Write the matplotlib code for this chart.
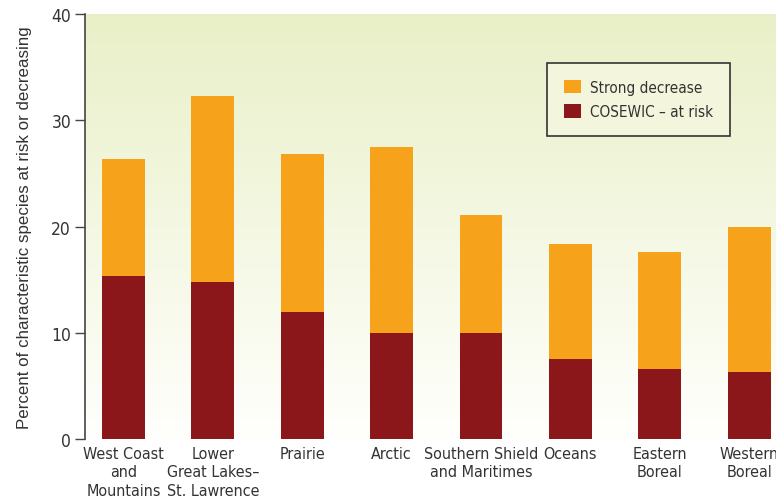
import numpy as np
import matplotlib.pyplot as plt
from matplotlib.patches import Patch
from matplotlib import font_manager

regions = ["West Coast\nand\nMountains", "Lower\nGreat Lakes\u2013\nSt. Lawrence", "Prairie",
           "Arctic", "Southern Shield\nand Maritimes", "Oceans", "Eastern\nBoreal", "Western\nBoreal"]
at_risk = [15.3, 14.8, 12.0, 10.0, 10.0, 7.5, 6.6, 6.3]
total = [26.4, 32.3, 26.8, 27.5, 21.1, 18.4, 17.6, 20.0]
strong_decrease = [t - r for t, r in zip(total, at_risk)]

# look for a condensed face, else fall back on Liberation Sans
cands = [f for f in font_manager.fontManager.ttflist
         if ("Narrow" in f.name or "Condensed" in f.name or "condensed" in str(f.stretch)
             or "Cond" in f.fname) and f.weight in (400, "normal", "regular") and f.style == "normal"]
if cands:
    cands.sort(key=lambda f: ("Liberation" not in f.name, f.fname))
    narrow = font_manager.FontProperties(fname=cands[0].fname)
    big = 11.5
else:
    narrow = font_manager.FontProperties(family="Liberation Sans")
    big = 9.5

orange = "#f7a21b"
red = "#8b171a"
txt = "#333333"

fig = plt.figure(figsize=(7.76, 5.02), dpi=100)
ax = fig.add_axes([0.1095, 0.1235, 0.8905, 0.8465])

x = np.arange(len(regions))
ax.set_xlim(-0.43, 7.30)
ax.set_ylim(0, 40)

# background: pale green at the top fading to white at the base
grad = np.linspace(0, 1, 256).reshape(-1, 1)
top = np.array([0.913, 0.941, 0.784])
bot = np.array([1.0, 1.0, 0.99])
img = bot + (top - bot) * grad[..., None]
ax.imshow(img, extent=[-0.43, 7.30, 0, 40], origin="lower", aspect="auto", zorder=0)

ax.bar(x, at_risk, width=0.48, color=red, zorder=2)
ax.bar(x, strong_decrease, width=0.48, bottom=at_risk, color=orange, zorder=2)

for s in ["top", "right", "bottom"]:
    ax.spines[s].set_visible(False)
ax.spines["left"].set_color("#444444")
ax.spines["left"].set_linewidth(1.2)

ax.set_yticks([0, 10, 20, 30, 40])
ax.tick_params(axis="y", length=7, width=1.0, color="#444444", labelcolor=txt, pad=3)
ax.tick_params(axis="x", length=0, pad=5)
ax.set_xticks(x)
ax.set_xticklabels(regions, color=txt, linespacing=1.28)
for lab in ax.get_xticklabels():
    lab.set_fontproperties(narrow)
    lab.set_fontsize(big)
for lab in ax.get_yticklabels():
    lab.set_fontproperties(narrow)
    lab.set_fontsize(12.5)
ax.set_ylabel("Percent of characteristic species at risk or decreasing",
              fontsize=12.2, color=txt, labelpad=14, family="Liberation Sans")

handles = [Patch(facecolor=orange, label="Strong decrease"),
           Patch(facecolor=red, label="COSEWIC \u2013 at risk")]
lp = narrow.copy()
lp.set_size(11)
leg = ax.legend(handles=handles, loc="upper left", bbox_to_anchor=(0.669, 0.885),
                frameon=True, fancybox=False, prop=lp,
                handlelength=1.1, handleheight=1.0, handletextpad=0.6,
                borderpad=1.1, labelspacing=0.6, borderaxespad=0)
leg.get_frame().set_facecolor("#f3f5dc")
leg.get_frame().set_edgecolor("#333333")
leg.get_frame().set_linewidth(1.2)
leg.get_frame().set_alpha(1)
for t in leg.get_texts():
    t.set_color(txt)

fig.savefig("out.png", dpi=100)
